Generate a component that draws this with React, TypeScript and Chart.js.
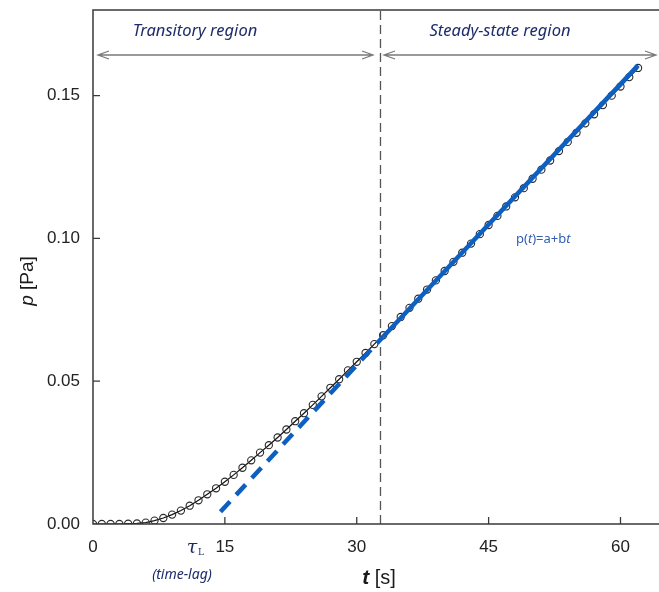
import React, { useEffect, useRef } from "react";
import { Chart, registerables } from "chart.js";

Chart.register(...registerables);

// Measured pressure p(t)
const times: number[] = [
  0, 1, 2, 3, 4, 5, 6, 7, 8, 9, 10, 11, 12, 13, 14, 15, 16, 17, 18, 19, 20,
  21, 22, 23, 24, 25, 26, 27, 28, 29, 30, 31, 32, 33, 34, 35, 36, 37, 38, 39,
  40, 41, 42, 43, 44, 45, 46, 47, 48, 49, 50, 51, 52, 53, 54, 55, 56, 57, 58,
  59, 60, 61, 62,
];
const pressure: number[] = [
  0.0, 0.0, 0.0, 0.0, 0.0001, 0.0002, 0.0005, 0.0012, 0.0021, 0.0033, 0.0047,
  0.0064, 0.0083, 0.0104, 0.0125, 0.0148, 0.0172, 0.0197, 0.0223, 0.025,
  0.0276, 0.0303, 0.0331, 0.036, 0.0388, 0.0417, 0.0447, 0.0477, 0.0507,
  0.0538, 0.0568, 0.0599, 0.063, 0.0661, 0.0693, 0.0725, 0.0757, 0.0789,
  0.0821, 0.0853, 0.0886, 0.0918, 0.095, 0.0982, 0.1015, 0.1047, 0.1079,
  0.1112, 0.1144, 0.1176, 0.1209, 0.1241, 0.1273, 0.1306, 0.1338, 0.137,
  0.1403, 0.1435, 0.1467, 0.15, 0.1532, 0.1565, 0.1597,
];

// Linear fit p(t)=a+bt : extrapolated (dashed) and steady-state (solid) parts
const fitDashT: number[] = [14.5, 33];
const fitDashP: number[] = [0.0043, 0.0656];
const fitSolidT: number[] = [33, 62];
const fitSolidP: number[] = [0.0656, 0.1606];

// Boundary between regions
const boundaryT: number[] = [32.7, 32.7];
const boundaryP: number[] = [0, 0.18];

const xTicks: number[] = [0, 15, 30, 45, 60];
const yTicks: number[] = [0, 0.05, 0.1, 0.15];

const X_MAX = 63.8;
const Y_MAX = 0.18;

const pts = (xs: number[], ys: number[]) => xs.map((x, i) => ({ x, y: ys[i] }));

const decorPlugin = {
  id: "decor",
  afterDatasetsDraw(chart: any) {
    const { ctx, chartArea, scales } = chart;
    const xs = scales.x;
    const ys = scales.y;
    const L = chartArea.left;
    const R = chart.width;
    const T = chartArea.top;
    const B = chartArea.bottom;
    ctx.save();
    // axes frame
    ctx.strokeStyle = "#3a3a3a";
    ctx.lineWidth = 1.5;
    ctx.beginPath();
    ctx.moveTo(R, T);
    ctx.lineTo(L, T);
    ctx.lineTo(L, B);
    ctx.lineTo(R, B);
    ctx.stroke();
    // inward ticks
    ctx.lineWidth = 1.3;
    ctx.beginPath();
    yTicks.forEach((v) => {
      if (v === 0) return;
      const y = ys.getPixelForValue(v);
      ctx.moveTo(L, y);
      ctx.lineTo(L + 7, y);
    });
    xTicks.forEach((v) => {
      if (v === 0) return;
      const x = xs.getPixelForValue(v);
      ctx.moveTo(x, B);
      ctx.lineTo(x, B - 7);
    });
    ctx.stroke();

    // double arrows
    const drawArrow = (x1: number, x2: number, y: number) => {
      ctx.strokeStyle = "#7a7a7a";
      ctx.lineWidth = 1.3;
      ctx.beginPath();
      ctx.moveTo(x1, y);
      ctx.lineTo(x2, y);
      ctx.moveTo(x1 + 11, y - 4);
      ctx.lineTo(x1, y);
      ctx.lineTo(x1 + 11, y + 4);
      ctx.moveTo(x2 - 11, y - 4);
      ctx.lineTo(x2, y);
      ctx.lineTo(x2 - 11, y + 4);
      ctx.stroke();
    };
    drawArrow(98, 373, 55);
    drawArrow(384, 656, 55);

    // region labels
    ctx.fillStyle = "#1e2b6b";
    ctx.font = 'italic 16.5px "Noto Sans"';
    ctx.textAlign = "center";
    ctx.textBaseline = "middle";
    ctx.fillText("Transitory region", 195, 31);
    ctx.fillText("Steady-state region", 500, 31);

    // time-lag
    ctx.font = 'italic 14px "Noto Sans"';
    ctx.fillText("(time-lag)", 182, 575);

    // tau_L
    ctx.fillStyle = "#1e2b5b";
    ctx.font = 'italic 19px "DejaVu Serif"';
    ctx.textAlign = "center";
    ctx.fillText("\u03c4", 192, 548);
    ctx.font = '9px "DejaVu Serif"';
    ctx.fillText("L", 201, 553);

    // formula p(t)=a+bt
    ctx.textAlign = "left";
    ctx.fillStyle = "#2f5db5";
    let fx = 516;
    const parts: [string, boolean][] = [
      ["p(", false],
      ["t", true],
      [")=a+b", false],
      ["t", true],
    ];
    parts.forEach(([s, it]) => {
      ctx.font = (it ? "italic " : "") + '13px "Noto Sans"';
      ctx.fillText(s, fx, 239);
      fx += ctx.measureText(s).width;
    });

    // axis titles
    ctx.fillStyle = "#1a1a1a";
    const drawMixed = (segs: [string, string][], cx: number, cy: number, rot: number) => {
      ctx.save();
      ctx.translate(cx, cy);
      ctx.rotate(rot);
      let w = 0;
      segs.forEach(([s, f]) => {
        ctx.font = f;
        w += ctx.measureText(s).width;
      });
      let x = -w / 2;
      ctx.textAlign = "left";
      ctx.textBaseline = "middle";
      segs.forEach(([s, f]) => {
        ctx.font = f;
        ctx.fillText(s, x, 0);
        x += ctx.measureText(s).width;
      });
      ctx.restore();
    };
    drawMixed(
      [
        ["t", 'italic bold 21px "Liberation Sans"'],
        [" [s]", '20px "Liberation Sans"'],
      ],
      379,
      578,
      0
    );
    drawMixed(
      [
        ["p", 'italic 19px "Liberation Sans"'],
        [" [Pa]", '19px "Liberation Sans"'],
      ],
      28,
      281,
      -Math.PI / 2
    );
    ctx.restore();
  },
};

export default function App() {
  const ref = useRef<HTMLCanvasElement | null>(null);
  useEffect(() => {
    document.body.style.margin = "0";
    if (!ref.current) return;
    const tickFont = { family: '"Liberation Sans", Arial, sans-serif', size: 17 };
    const chart = new Chart(ref.current, {
      type: "line",
      data: {
        datasets: [
          {
            label: "fit solid",
            data: pts(fitSolidT, fitSolidP),
            borderColor: "#0d5fc2",
            borderWidth: 4.5,
            pointRadius: 0,
            order: 0,
          },
          {
            label: "fit dashed",
            data: pts(fitDashT, fitDashP),
            borderColor: "#0d5fc2",
            borderWidth: 4.5,
            borderDash: [14, 9],
            pointRadius: 0,
            order: 0,
          },
          {
            label: "boundary",
            data: pts(boundaryT, boundaryP),
            borderColor: "#555555",
            borderWidth: 1.3,
            borderDash: [9, 5],
            pointRadius: 0,
            order: 2,
          },
          {
            label: "p(t)",
            data: pts(times, pressure),
            borderColor: "#111111",
            borderWidth: 1.2,
            pointRadius: 3.6,
            pointBorderWidth: 1.1,
            pointBorderColor: "#2a2a2a",
            pointBackgroundColor: "rgba(255,255,255,0)",
            tension: 0,
            order: 1,
          },
        ],
      },
      options: {
        animation: false,
        responsive: true,
        maintainAspectRatio: false,
        layout: { padding: { top: 10, right: 0, left: 0, bottom: 0 } },
        plugins: { legend: { display: false }, tooltip: { enabled: false } },
        scales: {
          x: {
            type: "linear",
            min: 0,
            max: X_MAX,
            grid: { display: false, drawTicks: false },
            border: { display: false },
            afterBuildTicks: (s: any) => {
              s.ticks = xTicks.map((v) => ({ value: v }));
            },
            ticks: {
              padding: 13,
              font: tickFont,
              color: "#222",
              maxRotation: 0,
              autoSkip: false,
              callback: (v: any) => String(v),
            },
            afterFit: (s: any) => {
              s.height = 68;
              s.paddingLeft = 0;
              s.paddingRight = 0;
            },
          },
          y: {
            type: "linear",
            min: 0,
            max: Y_MAX,
            grid: { display: false, drawTicks: false },
            border: { display: false },
            afterBuildTicks: (s: any) => {
              s.ticks = yTicks.map((v) => ({ value: v }));
            },
            ticks: {
              padding: 13,
              font: tickFont,
              color: "#222",
              callback: (v: any) => Number(v).toFixed(2),
            },
            afterFit: (s: any) => {
              s.width = 93;
              s.paddingTop = 0;
              s.paddingBottom = 0;
            },
          },
        },
      },
      plugins: [decorPlugin],
    });
    return () => chart.destroy();
  }, []);
  return (
    <div style={{ width: 659, height: 592, position: "relative", background: "#fff" }}>
      <canvas ref={ref} />
    </div>
  );
}
